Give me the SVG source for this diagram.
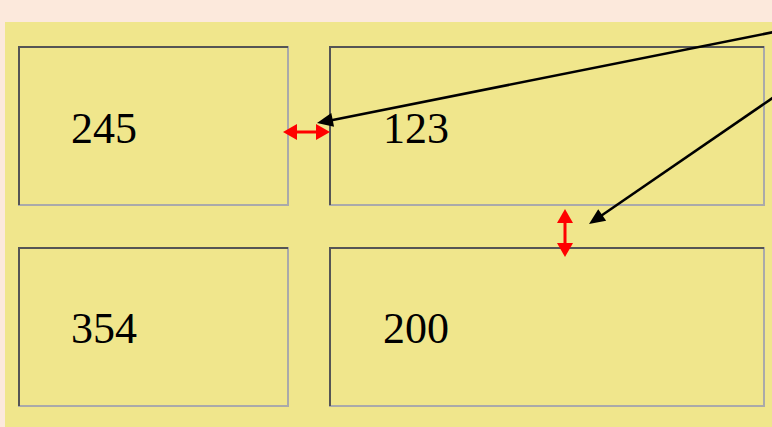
<svg xmlns="http://www.w3.org/2000/svg" width="772" height="427" viewBox="0 0 772 427">
<style>
.box{fill:#F0E68C;stroke:#aaaaaa;stroke-width:2}
.edge{fill:none;stroke:#555555;stroke-width:2}
.lbl{font-family:"Liberation Serif","Times New Roman",serif;font-size:44px;fill:#000000}
.blk{stroke:#000000;stroke-width:2.5;fill:none}
.red{stroke:#ff0000;stroke-width:3;fill:none}
</style>
<defs>
<path id="hb" d="M0,0 L-16,-7 L-16,7 Z" fill="#000000"/>
<path id="hr" d="M0,0 L-14,-8 L-14,8 Z" fill="#ff0000"/>
</defs>
<rect x="0" y="0" width="772" height="427" fill="#FCE9DC"/>
<rect x="5" y="22" width="767" height="405" fill="#F0E68C"/>
<g id="n245">
<rect class="box" x="19" y="47" width="269" height="158"/>
<polyline class="edge" points="19,205 19,47 288,47"/>
<text class="lbl" x="71" y="143">245</text>
</g>
<g id="n123">
<rect class="box" x="330" y="47" width="434" height="158"/>
<polyline class="edge" points="330,205 330,47 764,47"/>
<text class="lbl" x="383" y="143">123</text>
</g>
<g id="n354">
<rect class="box" x="19" y="248" width="269" height="158"/>
<polyline class="edge" points="19,406 19,248 288,248"/>
<text class="lbl" x="71" y="343">354</text>
</g>
<g id="n200">
<rect class="box" x="330" y="248" width="434" height="158"/>
<polyline class="edge" points="330,406 330,248 764,248"/>
<text class="lbl" x="383" y="343">200</text>
</g>
<g id="connectors">
<line class="red" x1="292" y1="132" x2="321" y2="132"/>
<use href="#hr" transform="translate(283,132) rotate(180)"/>
<use href="#hr" transform="translate(330,132)"/>
<line class="red" x1="565" y1="218" x2="565" y2="248"/>
<use href="#hr" transform="translate(565,209) rotate(-90)"/>
<use href="#hr" transform="translate(565,257) rotate(90)"/>
<line class="blk" x1="774" y1="32" x2="329" y2="120.7"/>
<use href="#hb" transform="translate(317,123) rotate(168.7)"/>
<line class="blk" x1="774" y1="97" x2="599" y2="217.2"/>
<use href="#hb" transform="translate(589,224) rotate(145.5)"/>
</g>
</svg>
